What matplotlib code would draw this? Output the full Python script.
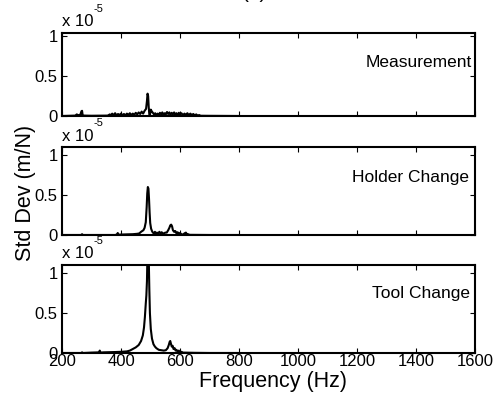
import matplotlib
matplotlib.use("Agg")
import matplotlib.pyplot as plt

plt.rcParams['font.family'] = ['Liberation Sans', 'DejaVu Sans']

# ---- data (std dev in units of 1e-5 m/N) ----
freq_meas = [200, 245, 250, 255, 262, 266, 268, 270, 275, 300, 355, 362, 366, 370, 375, 380, 385,
             390, 395, 400, 405, 410, 415, 420, 425, 430, 435, 440, 445, 450, 455, 460, 465, 470,
             475, 480, 485, 488, 490, 492, 494, 496, 498, 501, 504, 508, 512, 516, 520, 524, 528,
             532, 536, 540, 544, 548, 552, 556, 560, 564, 568, 572, 576, 580, 584, 588, 592, 596,
             600, 605, 610, 615, 620, 625, 630, 635, 640, 645, 650, 655, 660, 665, 670, 700, 800]
std_meas = [0.0, 0.005, 0.02, 0.01, 0.015, 0.06, 0.065, 0.01, 0.005, 0.003, 0.005, 0.02, 0.005,
            0.03, 0.01, 0.035, 0.008, 0.025, 0.012, 0.03, 0.01, 0.025, 0.008, 0.03, 0.015, 0.035,
            0.012, 0.03, 0.015, 0.04, 0.02, 0.045, 0.025, 0.055, 0.03, 0.065, 0.09, 0.19, 0.28,
            0.25, 0.11, 0.02, 0.01, 0.08, 0.06, 0.04, 0.02, 0.035, 0.01, 0.03, 0.015, 0.04,
            0.02, 0.045, 0.015, 0.035, 0.02, 0.05, 0.025, 0.045, 0.015, 0.04, 0.02, 0.045, 0.015,
            0.035, 0.01, 0.04, 0.02, 0.035, 0.01, 0.03, 0.015, 0.035, 0.01, 0.03, 0.012, 0.025,
            0.008, 0.02, 0.005, 0.012, 0.003, 0.002, 0.0]

freq_holder = [200, 265, 268, 271, 380, 386, 389, 391, 395, 420, 440, 455, 462, 468, 472, 476,
               480, 484, 487, 489, 491, 493, 495, 497, 499, 502, 505, 508, 512, 515, 518, 522,
               526, 530, 534, 538, 542, 546, 550, 555, 560, 564, 567, 570, 573, 576, 580, 584,
               588, 592, 596, 600, 605, 610, 615, 620, 624, 628, 632, 700, 800]
std_holder = [0.0, 0.0, 0.01, 0.0, 0.0, 0.005, 0.025, 0.0, 0.005, 0.008, 0.01, 0.015, 0.02,
              0.04, 0.05, 0.06, 0.09, 0.16, 0.35, 0.52, 0.60, 0.58, 0.45, 0.28, 0.15, 0.08,
              0.05, 0.03, 0.02, 0.04, 0.02, 0.03, 0.015, 0.04, 0.02, 0.035, 0.015, 0.02, 0.03,
              0.03, 0.06, 0.09, 0.12, 0.13, 0.11, 0.06, 0.04, 0.05, 0.02, 0.035, 0.01, 0.025,
              0.01, 0.005, 0.02, 0.03, 0.005, 0.01, 0.002, 0.0, 0.0]

freq_tool = [200, 265, 268, 271, 300, 325, 328, 331, 340, 360, 380, 400, 420, 430, 440, 450,
             460, 468, 474, 478, 481, 484, 486, 488, 490, 492, 494, 496, 498, 501, 505, 510,
             515, 520, 528, 536, 545, 552, 558, 562, 565, 567, 569, 572, 575, 578, 582, 585,
             588, 592, 596, 600, 605, 610, 650, 700, 800]
std_tool = [0.0, 0.0, 0.008, 0.0, 0.005, 0.008, 0.03, 0.005, 0.008, 0.01, 0.012, 0.015, 0.02,
            0.03, 0.05, 0.07, 0.10, 0.15, 0.22, 0.32, 0.45, 0.62, 0.72, 0.90, 1.3, 1.5, 1.2,
            0.8, 0.5, 0.3, 0.18, 0.11, 0.08, 0.06, 0.04, 0.035, 0.03, 0.035, 0.06, 0.10, 0.14,
            0.15, 0.12, 0.08, 0.09, 0.05, 0.06, 0.03, 0.04, 0.02, 0.03, 0.01, 0.015, 0.005,
            0.002, 0.0, 0.0]

panel_labels = ["Measurement", "Holder Change", "Tool Change"]
x_ticks = [200, 400, 600, 800, 1000, 1200, 1400, 1600]
y_ticks = [0, 0.5, 1]
y_tick_labels = ["0", "0.5", "1"]

series = [(freq_meas, std_meas), (freq_holder, std_holder), (freq_tool, std_tool)]

W, H = 495, 400
fig = plt.figure(figsize=(W / 100, H / 100), dpi=100)

# (top_px, bottom_px, ylim_top, label_x, label_y)
layout = [(33, 116, 1.04, 0.993, 0.65),
          (147, 235, 1.10, 0.985, 0.65),
          (265, 353, 1.10, 0.988, 0.68)]
left_px, right_px = 62, 475

for i, ((f, s), (top, bot, ytop, lx, ly)) in enumerate(zip(series, layout)):
    ax = fig.add_axes([left_px / W, 1 - bot / H, (right_px - left_px) / W, (bot - top) / H])
    ax.plot(f, s, color='black', lw=1.5)
    ax.set_xlim(200, 1600)
    ax.set_ylim(0, ytop)
    ax.set_xticks(x_ticks)
    ax.set_yticks(y_ticks)
    ax.set_yticklabels(y_tick_labels)
    ax.tick_params(direction='in', length=3.5, width=0.8, top=True, right=True,
                   labelsize=12, pad=3)
    ax.tick_params(axis='x', pad=1)
    if i < 2:
        ax.set_xticklabels([])
    for sp in ax.spines.values():
        sp.set_linewidth(1.5)
    ax.text(lx, ly, panel_labels[i], transform=ax.transAxes, ha='right', va='center',
            fontsize=12.5)
    # multiplier text
    fig.text(left_px / W, 1 - (top - 11) / H, "x 10", ha='left', va='center', fontsize=12)
    fig.text(93 / W, 1 - (top - 24) / H, "-5", ha='left', va='center', fontsize=8)

fig.text(273 / W, 1 - 381 / H, "Frequency (Hz)", ha='center', va='center', fontsize=15.5)
fig.text(26 / W, 1 - 193 / H, "Std Dev (m/N)", ha='center', va='center', rotation=90,
         fontsize=15.5)
fig.text(254 / W, 1.004, "(b)", ha='center', va='baseline', fontsize=15)

fig.savefig("out.png", dpi=100)
